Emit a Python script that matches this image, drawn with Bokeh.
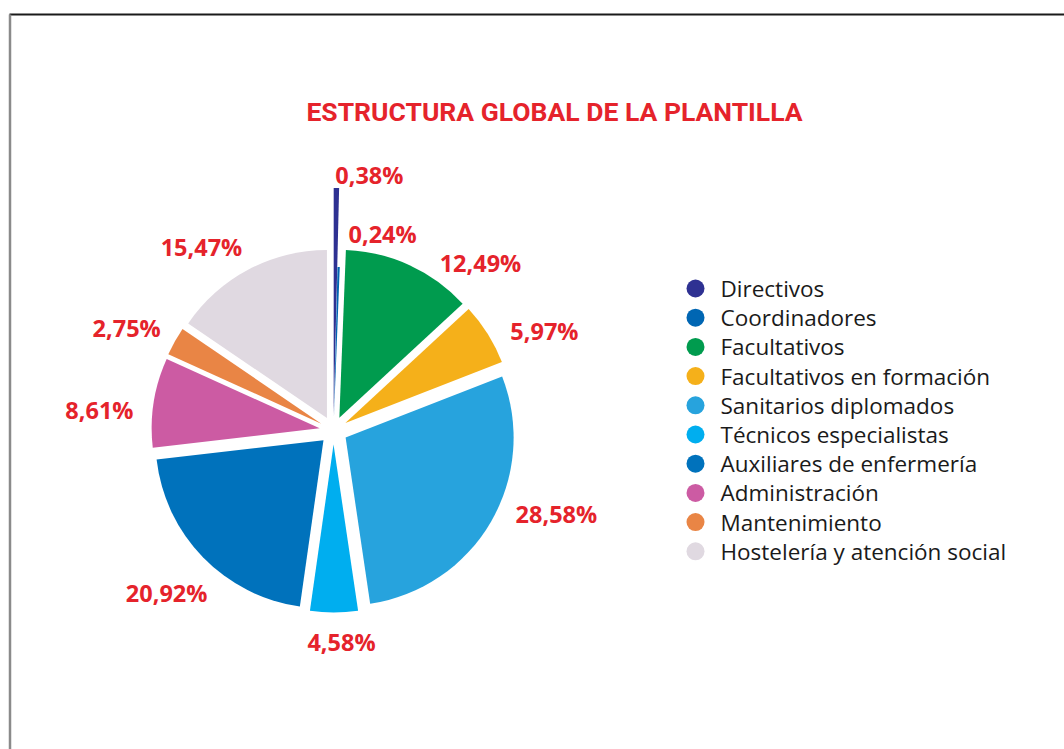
import math
from bokeh.plotting import figure
from bokeh.models import Range1d, ColumnDataSource
from bokeh.core.properties import value
from bokeh.embed import file_html
from bokeh.resources import INLINE

# ---- data ----
title_text = "ESTRUCTURA GLOBAL DE LA PLANTILLA"
categories = ["Directivos", "Coordinadores", "Facultativos", "Facultativos en formación",
              "Sanitarios diplomados", "Técnicos especialistas", "Auxiliares de enfermería",
              "Administración", "Mantenimiento", "Hostelería y atención social"]
shares = [0.38, 0.24, 12.49, 5.97, 28.58, 4.58, 20.92, 8.61, 2.75, 15.47]

# ---- style ----
colors = ["#2E3192", "#0066B3", "#009B4E", "#F5B01A", "#27A3DD",
          "#00AEEF", "#0072BC", "#CC5BA3", "#E98545", "#E0D9E1"]
radius_scale = [1.36, 0.89, 1, 1, 1, 1, 1, 1, 1, 1]
explode = [14] * 10
label_nudge_deg = [7.3, 12.2, 16.5, 6.9, -9.6, -2.0, 0.0, -3.9, -2.9, -7.9]
label_dist = [258, 203, 223, 233, 238, 212, 233, 235, 231, 226]
RED = "#E5232B"
W, H = 1064, 749
CX, CY, R = 333, H - 430, 168

p = figure(width=W, height=H, output_backend="svg", toolbar_location=None,
           x_range=Range1d(0, W), y_range=Range1d(0, H),
           x_axis_location=None, y_axis_location=None, min_border=0)
p.grid.visible = False
p.outline_line_color = None
p.background_fill_color = "white"
p.border_fill_color = "white"

# frame decoration
p.segment(x0=[9], y0=[H - 14], x1=[W], y1=[H - 14], line_color="#1a1a1a", line_width=2)
p.segment(x0=[9.5], y0=[H - 14], x1=[9.5], y1=[0], line_color="#8a8a8a", line_width=2.5)

total = sum(shares)
cum = [0.0]
for s in shares:
    cum.append(cum[-1] + s)

xs, ys, rads, sa, ea, lx, ly, ltxt = [], [], [], [], [], [], [], []
for i, s in enumerate(shares):
    t0 = 2 * math.pi * cum[i] / total
    t1 = 2 * math.pi * cum[i + 1] / total
    b = (t0 + t1) / 2
    xs.append(CX + explode[i] * math.sin(b))
    ys.append(CY + explode[i] * math.cos(b))
    rads.append(R * radius_scale[i])
    sa.append(math.pi / 2 - t0)
    ea.append(math.pi / 2 - t1)
    la = b + math.radians(label_nudge_deg[i])
    lx.append(CX + label_dist[i] * math.sin(la))
    ly.append(CY + label_dist[i] * math.cos(la))
    ltxt.append(f"{s:.2f}%".replace(".", ","))

src = ColumnDataSource(dict(x=xs, y=ys, r=rads, sa=sa, ea=ea, color=colors))
p.wedge(x="x", y="y", radius="r", start_angle="sa", end_angle="ea",
        direction="clock", fill_color="color", line_color=None, source=src)

p.text(x=lx, y=ly, text=ltxt, text_color=RED, text_font=value("Open Sans"),
       text_font_style="bold", text_font_size="23.5px",
       text_align="center", text_baseline="middle")

# title
p.text(x=[554], y=[H - 111], text=[title_text], text_color=RED,
       text_font=value("Roboto"), text_font_style="bold", text_font_size="26.5px",
       text_align="center", text_baseline="middle")

# legend
lg_x, lg_y0, lg_step = 695, H - 288, 29.2
leg_y = [lg_y0 - i * lg_step for i in range(len(categories))]
p.scatter(x=[lg_x] * len(categories), y=leg_y, size=18, marker="circle",
          fill_color=colors, line_color=None)
p.text(x=[lg_x + 25] * len(categories), y=leg_y, text=categories,
       text_color="#1a1a1a", text_font=value("Open Sans"), text_font_size="22.5px",
       text_align="left", text_baseline="middle")

open("out.html", "w").write(file_html(p, INLINE))
